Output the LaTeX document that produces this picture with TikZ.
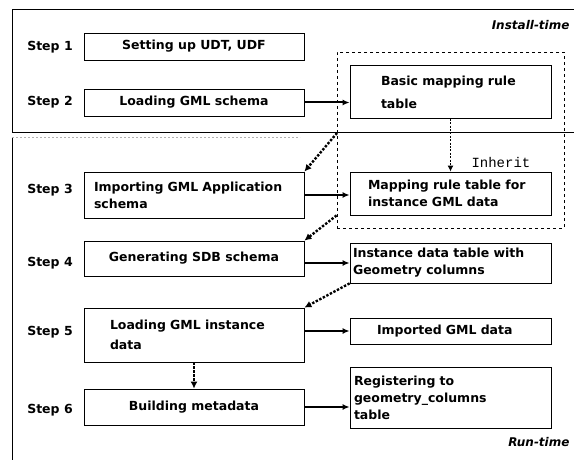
\documentclass[tikz,border=0pt]{standalone}
\usepackage{fontspec}
\setmainfont{DejaVu Sans}
\setmonofont{Liberation Mono}
\usetikzlibrary{arrows.meta}

\tikzset{
  stepbox/.style={draw, line width=0.8pt, minimum width=220pt, inner sep=0pt},
  tblbox/.style={draw, line width=0.8pt, minimum width=201pt, inner ysep=0pt, align=left},
  flow/.style={line width=2pt, -{Latex[length=7pt,width=6pt]}},
  dflow/.style={line width=2.4pt, dash pattern=on 2.4pt off 1.6pt, -{Latex[length=7pt,width=7pt]}},
  inhflow/.style={line width=1.1pt, dash pattern=on 2pt off 1.4pt, -{Latex[length=6pt,width=6pt]}}
}

\begin{document}
\begin{tikzpicture}[x=1pt, y=-1pt, font=\fontsize{12.5}{17}\selectfont\bfseries]

\useasboundingbox (0,0) rectangle (574,460);
\fill[white] (0,0) rectangle (574,460);

% Install-time / Run-time frames
\draw[line width=1pt] (574,10) -- (12,10) -- (12,133) -- (574,133);
\draw[line width=1pt] (12,460) -- (12,137);
\draw[gray!60, line width=0.5pt, dash pattern=on 2pt off 2pt] (12,137) -- (300,137);
\node (itime) at (573,25) [anchor=east, font=\fontsize{12}{14}\selectfont\bfseries\itshape] {Install-time};
\node (rtime) at (573,442) [anchor=east, font=\fontsize{12}{14}\selectfont\bfseries\itshape] {Run-time};

% Step labels
\node (s1) at (50,47) {Step 1};
\node (s2) at (50,102) {Step 2};
\node (s3) at (50,190) {Step 3};
\node (s4) at (50,263) {Step 4};
\node (s5) at (50,332) {Step 5};
\node (s6) at (50,410) {Step 6};

% Processing steps
\node (b1) at (194,46.5) [stepbox, minimum height=27pt] {Setting up UDT, UDF};
\node (b2) at (194,102.5) [stepbox, minimum height=27pt] {Loading GML schema};
\node (b3) at (194,195) [stepbox, minimum height=46pt, inner xsep=10pt, text width=200pt, align=left] {Importing GML Application\\schema};
\node (b4) at (194,258.5) [stepbox, minimum height=35pt] {Generating SDB schema};
\node (b5) at (194,335) [stepbox, minimum height=54pt, inner xsep=26pt, text width=168pt, align=left] {Loading GML instance\\[3pt]data};
\node (b6) at (194,407) [stepbox, minimum height=36pt] {Building metadata};

% Resulting tables
\node (grp) at (450.5,140) [draw, dashed, line width=0.8pt, minimum width=227pt, minimum height=176pt] {};
\node (basic) at (450.5,92) [tblbox, minimum height=53pt, inner xsep=31pt, text width=139pt] {Basic mapping rule\\[6pt]table};
\node (map) at (450.5,193.5) [tblbox, minimum height=43pt, inner xsep=18pt, text width=165pt] {Mapping rule table for\\instance GML data};
\node (inst) at (450.5,263) [tblbox, minimum height=40pt, inner xsep=3pt, text width=195pt] {Instance data table with\\Geometry columns};
\node (imp) at (450.5,331) [tblbox, minimum height=26pt, inner xsep=27pt, text width=147pt] {Imported GML data};
\node (reg) at (450.5,397.5) [tblbox, minimum height=61pt, inner xsep=4pt, text width=193pt] {Registering to\\geometry\_columns\\table};

% Inheritance
\draw[inhflow] (basic.south) -- (map.north);
\node (inh) at (468,162) [anchor=west, font=\fontsize{14}{16}\selectfont\ttfamily\mdseries] {Inherit};

% Outputs of each step
\draw[flow] (b2.east) -- (b2.east -| basic.west);
\draw[flow] (b3.east) -- (b3.east -| map.west);
\draw[flow] (inst.west -| b4.east) -- (inst.west);
\draw[flow] (imp.west -| b5.east) -- (imp.west);
\draw[flow] (b6.east) -- (b6.east -| reg.west);

% Order of steps
\coordinate (split) at (337,133);
\draw[dflow] (split) -- (b3.north east);
\draw[dflow] (grp.west |- map.south) -- (b4.north east);
\draw[dflow] (inst.south west) -- (b5.north east);
\draw[dflow] (b5.south) -- (b6.north);

\end{tikzpicture}
\end{document}
